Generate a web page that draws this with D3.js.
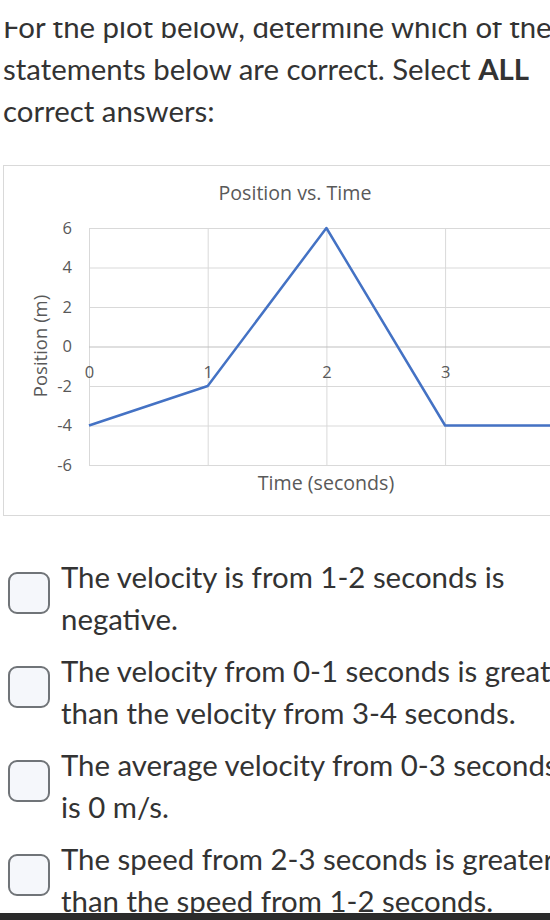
<!DOCTYPE html>
<html>
<head>
<meta charset="utf-8">
<script src="https://cdn.jsdelivr.net/npm/d3@7"></script>
<style>
  html, body { margin: 0; padding: 0; background: #fff; overflow: hidden; }
  svg { display: block; }
</style>
</head>
<body>
<div id="page"></div>
<script>
// chart data
var times = [0, 1, 2, 3, 4];
var positions = [-4, -2, 6, -4, -4];
var y_ticks = [6, 4, 2, 0, -2, -4, -6];
var x_ticks = [0, 1, 2, 3, 4];
var x_labels = [0, 1, 2, 3];

// page text
var question_lines = [
  [{ t: 'For the plot below, determine which of the' }],
  [{ t: 'statements below are correct. Select ' }, { t: 'ALL', b: true }],
  [{ t: 'correct answers:' }]
];
var answers = [
  ['The velocity is from 1-2 seconds is', 'negative.'],
  ['The velocity from 0-1 seconds is greater', 'than the velocity from 3-4 seconds.'],
  ['The average velocity from 0-3 seconds', 'is 0 m/s.'],
  ['The speed from 2-3 seconds is greater', 'than the speed from 1-2 seconds.']
];

var W = 550, H = 920;
var txt_font = 'Lato, "Open Sans", sans-serif';
var txt_size = 29.4;
var chart_font = '"Open Sans", "Noto Sans", sans-serif';
var chart_grey = '#595959';

var svg = d3.select('#page').append('svg')
  .attr('width', W)
  .attr('height', H);

// question
var q = svg.append('g').attr('class', 'question');
question_lines.forEach(function(parts, i) {
  var t = q.append('text')
    .attr('x', 3)
    .attr('y', 38 + i * 42)
    .attr('font-family', txt_font)
    .attr('font-size', txt_size)
    .attr('fill', '#333');
  parts.forEach(function(p) {
    t.append('tspan')
      .attr('font-weight', p.b ? 700 : 400)
      .text(p.t);
  });
});
// top of the first line is hidden under the page header
svg.append('rect')
  .attr('x', 0).attr('y', 0)
  .attr('width', W).attr('height', 22)
  .attr('fill', '#fff');

// chart
var box = { left: 3.5, top: 165.5, height: 350 };
svg.append('rect')
  .attr('x', box.left).attr('y', box.top)
  .attr('width', W + 20).attr('height', box.height)
  .attr('fill', '#fff')
  .attr('stroke', '#d9d9d9');

var x = d3.scaleLinear().domain([0, 4]).range([89, 563.8]);
var y = d3.scaleLinear().domain([-6, 6]).range([465, 228]);

var gph = svg.append('g').attr('class', 'chart');

gph.append('g')
  .attr('class', 'axis grid')
  .attr('transform', `translate(0, ${ y.range()[1] })`)
  .call(d3.axisBottom(x)
        .tickValues(x_ticks)
        .tickSize(y.range()[0] - y.range()[1])
        .tickFormat(''))
  .call(g => g.select('.domain').remove())
  .selectAll('line').attr('stroke', '#d9d9d9');

gph.append('g')
  .attr('class', 'axis grid')
  .attr('transform', `translate(${ x.range()[0] }, 0)`)
  .call(d3.axisRight(y)
        .tickValues(y_ticks)
        .tickSize(x.range()[1] - x.range()[0])
        .tickFormat(''))
  .call(g => g.select('.domain').remove())
  .selectAll('line')
  .attr('stroke', d => d === 0 ? '#bfbfbf' : '#d9d9d9');

var ya = gph.append('g')
  .attr('class', 'axis y-axis')
  .attr('transform', `translate(${ x.range()[0] }, 0)`)
  .call(d3.axisLeft(y)
        .tickValues(y_ticks)
        .tickSize(0)
        .tickPadding(17)
        .tickFormat(d => String(d)));
ya.select('.domain').remove();
ya.selectAll('text')
  .attr('font-family', chart_font)
  .attr('font-size', 16.5)
  .attr('fill', chart_grey);

var xa = gph.append('g')
  .attr('class', 'axis x-axis')
  .attr('transform', `translate(0, ${ y(0) })`)
  .call(d3.axisBottom(x)
        .tickValues(x_labels)
        .tickSize(0)
        .tickPadding(20)
        .tickFormat(d => String(d)));
xa.select('.domain').remove();
xa.selectAll('text')
  .attr('font-family', chart_font)
  .attr('font-size', 16.5)
  .attr('fill', chart_grey);

var line = d3.line()
  .x((d, i) => x(times[i]))
  .y(d => y(d));

gph.append('path')
  .datum(positions)
  .attr('d', line)
  .attr('fill', 'none')
  .attr('stroke', '#4472c4')
  .attr('stroke-width', 2.5)
  .attr('stroke-linejoin', 'round');

gph.append('text')
  .attr('x', 295).attr('y', 200)
  .attr('text-anchor', 'middle')
  .attr('font-family', chart_font)
  .attr('font-size', 19.6)
  .attr('fill', chart_grey)
  .text('Position vs. Time');

gph.append('text')
  .attr('x', 326).attr('y', 490)
  .attr('text-anchor', 'middle')
  .attr('font-family', chart_font)
  .attr('font-size', 19.6)
  .attr('fill', chart_grey)
  .text('Time (seconds)');

gph.append('text')
  .attr('transform', 'translate(47, 346) rotate(-90)')
  .attr('text-anchor', 'middle')
  .attr('font-family', chart_font)
  .attr('font-size', 18.5)
  .attr('fill', chart_grey)
  .text('Position (m)');

// answers
var ans = svg.append('g').attr('class', 'answers');
answers.forEach(function(lines, i) {
  var base = 588 + i * 94;
  ans.append('rect')
    .attr('x', 9).attr('y', base - 15)
    .attr('width', 40).attr('height', 40)
    .attr('rx', 8)
    .attr('fill', '#f5f7fb')
    .attr('stroke', '#707478')
    .attr('stroke-width', 2);
  lines.forEach(function(l, j) {
    ans.append('text')
      .attr('x', 61)
      .attr('y', base + j * 42)
      .attr('font-family', txt_font)
      .attr('font-size', txt_size)
      .attr('fill', '#333')
      .text(l);
  });
});

svg.append('rect')
  .attr('x', 0).attr('y', 913)
  .attr('width', W).attr('height', H - 913)
  .attr('fill', '#2b2b2b');
</script>
</body>
</html>
